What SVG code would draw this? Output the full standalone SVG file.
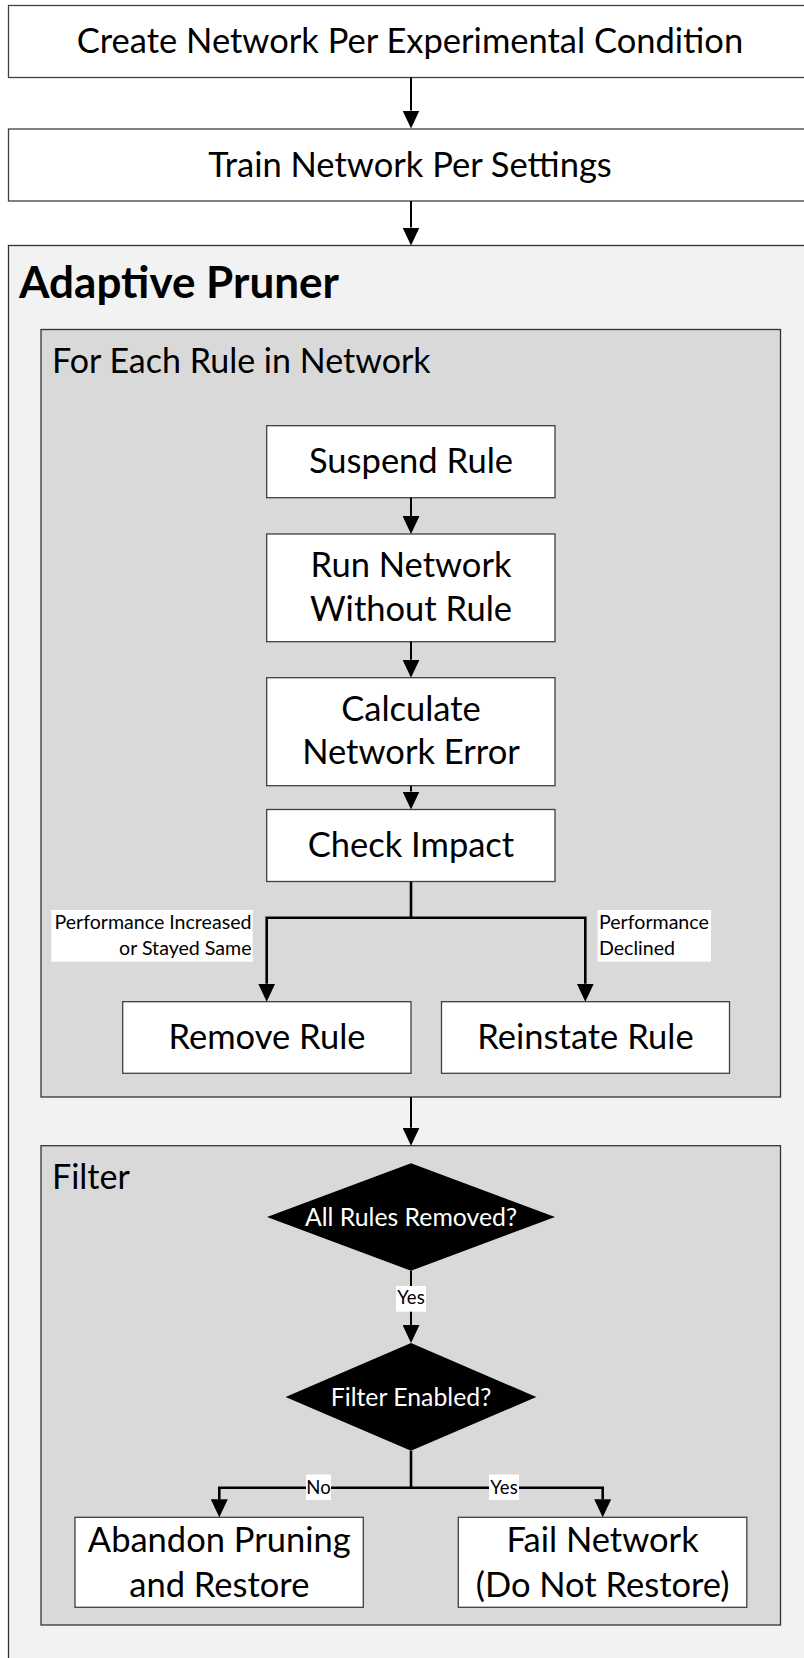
<svg xmlns="http://www.w3.org/2000/svg" width="804" height="1658" viewBox="0 0 804 1658">
<defs>
<style>
.box{fill:#ffffff;stroke:#404040;stroke-width:1.3}
.outer{fill:#f2f2f2;stroke:#333333;stroke-width:1.3}
.inner{fill:#d9d9d9;stroke:#333333;stroke-width:1.3}
.dia{fill:#000000;stroke:none}
.t{font-family:Lato,"Liberation Sans",sans-serif;fill:#000000;text-anchor:middle;font-size:34.5px}
.tw{font-family:Lato,"Liberation Sans",sans-serif;fill:#ffffff;text-anchor:middle;font-size:24.8px}
.title{font-family:Lato,"Liberation Sans",sans-serif;font-weight:bold;font-size:44px;fill:#000000}
.sub{font-family:Lato,"Liberation Sans",sans-serif;font-size:34px;fill:#000000}
.lbl{font-family:Lato,"Liberation Sans",sans-serif;font-size:19.6px;fill:#000000}
.yn{font-family:Lato,"Liberation Sans",sans-serif;font-size:18.5px;fill:#000000;text-anchor:middle}
.lblbg{fill:#ffffff;stroke:none}
.c{fill:none;stroke:#000000;stroke-width:2}
.cb{fill:none;stroke:#000000;stroke-width:2.6}
</style>
<marker id="ah" markerUnits="userSpaceOnUse" markerWidth="18" markerHeight="17" refX="0" refY="8.5" orient="auto" viewBox="0 0 18 17">
<path d="M0,0 L18,8.5 L0,17 z" fill="#000000"/>
</marker>
</defs>

<g id="create-network">
<rect class="box" x="8.5" y="5.5" width="803" height="72"/>
<text class="t" x="410" y="53.3">Create Network Per Experimental Condition</text>
</g>

<g id="train-network">
<rect class="box" x="8.5" y="129" width="803" height="72"/>
<text class="t" x="410" y="176.5">Train Network Per Settings</text>
</g>

<g id="adaptive-pruner">
<rect class="outer" x="8.5" y="245.5" width="820" height="1430"/>
<text class="title" x="19" y="298.3">Adaptive Pruner</text>
</g>

<g id="for-each-rule">
<rect class="inner" x="41" y="329.5" width="739.5" height="767.5"/>
<text class="sub" x="52" y="372.7">For Each Rule in Network</text>
</g>

<g id="suspend-rule">
<rect class="box" x="266.7" y="425.7" width="288.3" height="72"/>
<text class="t" x="411" y="473.3">Suspend Rule</text>
</g>

<g id="run-network">
<rect class="box" x="266.7" y="534" width="288.3" height="107.7"/>
<text class="t" x="411" y="577">Run Network</text>
<text class="t" x="411" y="620.5">Without Rule</text>
</g>

<g id="calculate-error">
<rect class="box" x="266.7" y="677.7" width="288.3" height="108"/>
<text class="t" x="411" y="721">Calculate</text>
<text class="t" x="411" y="764">Network Error</text>
</g>

<g id="check-impact">
<rect class="box" x="266.7" y="809.5" width="288.3" height="72"/>
<text class="t" x="411" y="857">Check Impact</text>
</g>

<g id="remove-rule">
<rect class="box" x="122.7" y="1001.7" width="288.3" height="71.6"/>
<text class="t" x="267" y="1048.5">Remove Rule</text>
</g>

<g id="reinstate-rule">
<rect class="box" x="441.5" y="1001.7" width="288" height="71.6"/>
<text class="t" x="585.5" y="1048.5">Reinstate Rule</text>
</g>

<g id="filter">
<rect class="inner" x="41" y="1145.7" width="739.5" height="479.3"/>
<text class="sub" x="52" y="1189.3">Filter</text>
</g>

<g id="all-rules-removed">
<polygon class="dia" points="411,1163.3 555,1217 411,1270.7 267,1217"/>
<text class="tw" x="411" y="1226">All Rules Removed?</text>
</g>

<g id="filter-enabled">
<polygon class="dia" points="411,1343 536.3,1397 411,1450.7 285.6,1397"/>
<text class="tw" x="411" y="1405.7">Filter Enabled?</text>
</g>

<g id="abandon-pruning">
<rect class="box" x="75" y="1517.3" width="288.3" height="90"/>
<text class="t" x="219.3" y="1551.7">Abandon Pruning</text>
<text class="t" x="219.3" y="1596.7">and Restore</text>
</g>

<g id="fail-network">
<rect class="box" x="458.3" y="1517.3" width="288.5" height="90"/>
<text class="t" x="602.6" y="1551.7">Fail Network</text>
<text class="t" x="602.6" y="1596.7">(Do Not Restore)</text>
</g>

<g id="connectors">
<path class="c" d="M411,77.5 V110.5" marker-end="url(#ah)"/>
<path class="c" d="M411,201 V227.5" marker-end="url(#ah)"/>
<path class="c" d="M411,497.7 V516" marker-end="url(#ah)"/>
<path class="c" d="M411,641.7 V659.7" marker-end="url(#ah)"/>
<path class="c" d="M411,785.7 V791.5" marker-end="url(#ah)"/>
<path class="cb" d="M411,881.7 V917.7 H266.7 V983.7" marker-end="url(#ah)"/>
<path class="cb" d="M411,917.7 H585.3 V983.7" marker-end="url(#ah)"/>
<path class="c" d="M411,1097 V1127.7" marker-end="url(#ah)"/>
<path class="c" d="M411,1270.7 V1325" marker-end="url(#ah)"/>
<path class="cb" d="M411,1450.7 V1487.7 H219.3 V1499.3" marker-end="url(#ah)"/>
<path class="cb" d="M411,1487.7 H602.7 V1499.3" marker-end="url(#ah)"/>
<rect class="lblbg" x="51.3" y="910" width="201.4" height="51.7"/>
<text class="lbl" x="251.5" y="929.3" text-anchor="end">Performance Increased</text>
<text class="lbl" x="251.5" y="955" text-anchor="end">or Stayed Same</text>
<rect class="lblbg" x="597.7" y="910" width="113.3" height="51.7"/>
<text class="lbl" x="599" y="929.3">Performance</text>
<text class="lbl" x="599" y="955">Declined</text>
<rect class="lblbg" x="396" y="1286" width="30" height="25.7"/>
<text class="yn" x="411" y="1304">Yes</text>
<rect class="lblbg" x="306" y="1474.5" width="25" height="25.5"/>
<text class="yn" x="318.5" y="1494.3">No</text>
<rect class="lblbg" x="489" y="1474.5" width="30" height="25.5"/>
<text class="yn" x="504" y="1494.3">Yes</text>
</g>
</svg>
